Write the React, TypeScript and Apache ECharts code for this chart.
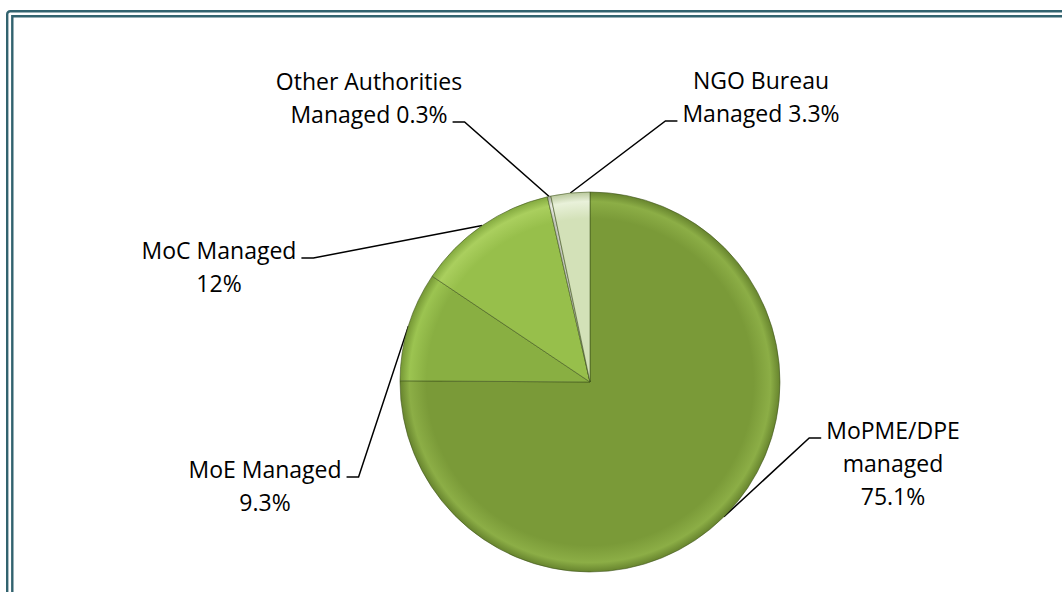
import React, { useEffect, useRef } from 'react';
import * as echarts from 'echarts';

// ---- data ----
const categories = ['MoPME/DPE managed', 'MoE Managed', 'MoC Managed', 'Other Authorities Managed', 'NGO Bureau Managed'];
const shares = [75.1, 9.3, 12, 0.3, 3.3];
const labelTemplates = [
  'MoPME/DPE\nmanaged\n{v}%',
  'MoE Managed\n{v}%',
  'MoC Managed\n{v}%',
  'Other Authorities\nManaged {v}%',
  'NGO Bureau\nManaged {v}%',
];

// ---- layout / style ----
const CX = 590;
const CY = 382;
const R = 190;
const FONT_SIZE = 23;
const LINE_H = 33;
const FONT_FAMILY = '"Open Sans", sans-serif';
// label centre x and first-line baseline y
const labelAnchors: number[][] = [
  [893, 438],
  [265, 477],
  [219, 258],
  [369, 89],
  [761, 88],
];
const attachLine = [0, 0, 0, 1, 1];
const slicePalette = [
  { base: '#7A9A38', light: '#8CAE46', dark: '#67842E' },
  { base: '#89AF42', light: '#9CC451', dark: '#759735' },
  { base: '#97BF4B', light: '#AACF5E', dark: '#83A93F' },
  { base: '#C2C6BA', light: '#E8EAE2', dark: '#9EA296' },
  { base: '#D3E1B8', light: '#E9F1DA', dark: '#B9C89C' },
];

export default function App() {
  const ref = useRef<HTMLDivElement>(null);

  useEffect(() => {
    if (!ref.current) return;
    const chart = echarts.init(ref.current, undefined, { renderer: 'svg' });
    const canvas = document.createElement('canvas');
    const ctx = canvas.getContext('2d')!;
    ctx.font = `${FONT_SIZE}px "Open Sans"`;
    const measure = (s: string) => ctx.measureText(s).width;

    const total = shares.reduce((a, b) => a + b, 0);
    const cum: number[] = [];
    let acc = 0;
    shares.forEach((v) => {
      cum.push(acc + v / 2);
      acc += v;
    });

    const data = categories.map((name, i) => {
      const p = slicePalette[i];
      return {
        name,
        value: shares[i],
        itemStyle: {
          color: new echarts.graphic.RadialGradient(
            CX,
            CY,
            R,
            [
              { offset: 0, color: p.base },
              { offset: 0.86, color: p.base },
              { offset: 0.95, color: p.light },
              { offset: 1, color: p.dark },
            ],
            true
          ),
        },
      };
    });

    chart.setOption({
      animation: false,
      backgroundColor: '#ffffff',
      graphic: [
        {
          type: 'rect',
          silent: true,
          shape: { x: 7.2, y: 11.2, width: 2000, height: 2000, r: 3 },
          style: { fill: 'none', stroke: '#32636F', lineWidth: 2.4 },
        },
        {
          type: 'rect',
          silent: true,
          shape: { x: 12.3, y: 16.2, width: 2000, height: 2000 },
          style: { fill: 'none', stroke: '#32636F', lineWidth: 2.4 },
        },
      ],
      series: [
        {
          type: 'pie',
          center: [CX, CY],
          radius: R,
          startAngle: 90,
          clockwise: true,
          avoidLabelOverlap: false,
          silent: true,
          emphasis: { disabled: true },
          itemStyle: { borderColor: 'rgba(60,80,25,0.55)', borderWidth: 1 },
          label: {
            show: true,
            position: 'outside',
            formatter: (p: any) => labelTemplates[p.dataIndex].replace('{v}', String(p.value)),
            fontSize: FONT_SIZE,
            lineHeight: LINE_H,
            fontFamily: FONT_FAMILY,
            color: '#000000',
            align: 'center',
          },
          labelLine: {
            show: true,
            length: 20,
            length2: 10,
            smooth: false,
            lineStyle: { color: '#000000', width: 1.5 },
          },
          labelLayout: (params: any) => {
            const idx = params.dataIndex;
            const lines = labelTemplates[idx].replace('{v}', String(shares[idx])).split('\n');
            const [lx, b1] = labelAnchors[idx];
            const top = b1 - 24.5;
            const isRight = lx > CX;
            const k = attachLine[idx];
            const w = measure(lines[k]);
            const edgeX = isRight ? lx - w / 2 : lx + w / 2;
            const y = b1 + LINE_H * k;
            let start: number[];
            if (params.labelLinePoints && params.labelLinePoints[0]) {
              start = params.labelLinePoints[0];
            } else {
              const ang = (cum[idx] / total) * Math.PI * 2;
              start = [CX + R * Math.sin(ang), CY - R * Math.cos(ang)];
            }
            const dir = isRight ? -1 : 1;
            return {
              x: lx,
              y: top,
              align: 'center',
              verticalAlign: 'top',
              labelLinePoints: [start, [edgeX + dir * 17, y], [edgeX + dir * 5, y]],
            };
          },
          data,
        },
      ],
    });
    return () => chart.dispose();
  }, []);

  return (
    <div
      ref={ref}
      style={{ position: 'fixed', left: 0, top: 0, width: 1062, height: 592 }}
    />
  );
}
